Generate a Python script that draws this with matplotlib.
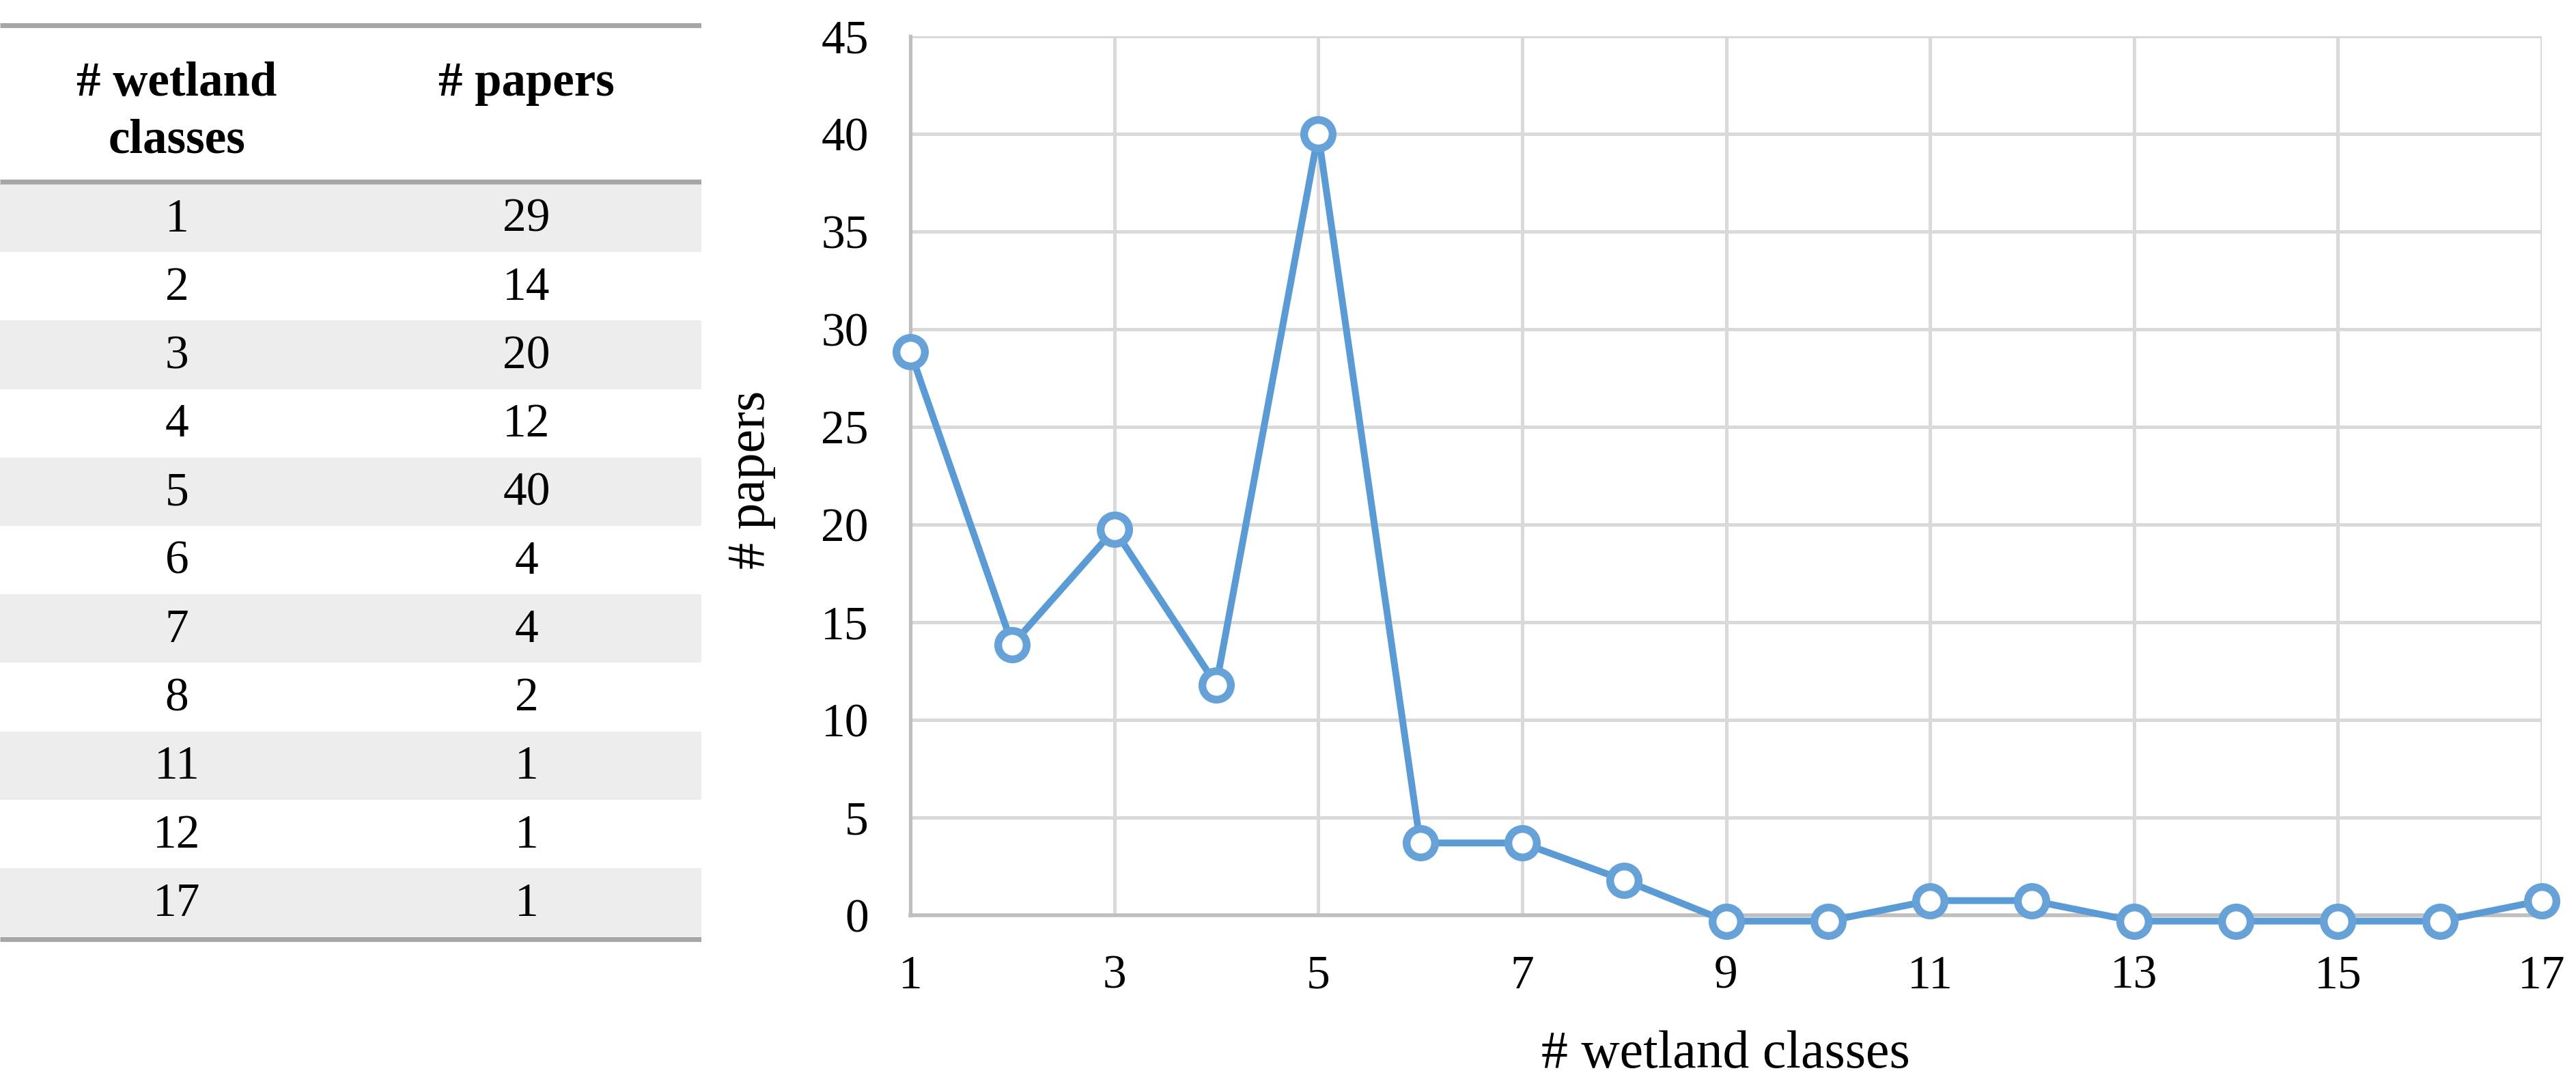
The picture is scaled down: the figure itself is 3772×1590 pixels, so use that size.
import matplotlib
matplotlib.use("Agg")
import matplotlib.pyplot as plt
from matplotlib.patches import Rectangle

# ---- data ----
table_classes = ["1", "2", "3", "4", "5", "6", "7", "8", "11", "12", "17"]
table_papers = ["29", "14", "20", "12", "40", "4", "4", "2", "1", "1", "1"]
header_col1 = "# wetland\nclasses"
header_col2 = "# papers"

x_classes = list(range(1, 18))
# values as drawn in the chart
y_papers = [28.85, 13.85, 19.75, 11.8, 40, 3.7, 3.7, 1.8, -0.3, -0.3,
            0.75, 0.75, -0.3, -0.3, -0.3, -0.3, 0.75]
x_ticks = list(range(1, 18, 2))
y_ticks = list(range(0, 46, 5))
x_label = "# wetland classes"
y_label = "# papers"

W, H = 3773, 1590
DPI = 100
plt.rcParams['font.family'] = ['Liberation Serif', 'DejaVu Serif']

fig = plt.figure(figsize=(W / DPI, H / DPI), dpi=DPI)

# ---- table (pixel coordinates) ----
tw = 1027
axt = fig.add_axes([0, 0, tw / W, 1])
axt.set_xlim(0, tw)
axt.set_ylim(H, 0)
axt.axis('off')

line_col = '#A6A6A6'
shade = '#EDEDED'
top_y, head_y = 37, 265.5
row0, rh = 269, 100.2
c1, c2 = 259, 771
nrows = len(table_classes)
for i in range(nrows):
    y0 = row0 + i * rh
    if i % 2 == 0:
        axt.add_patch(Rectangle((0, y0), tw, rh, facecolor=shade, edgecolor='none'))
    yc = y0 + rh / 2 + 3
    axt.text(c1, yc, table_classes[i], ha='center', va='center', fontsize=50, color='black')
    axt.text(c2, yc, table_papers[i], ha='center', va='center', fontsize=50, color='black')
bot_y = row0 + nrows * rh + 3.5
for yy in (top_y, head_y, bot_y):
    axt.plot([0, tw], [yy, yy], color=line_col, lw=5.2, solid_capstyle='butt')

h1 = header_col1.split("\n")
axt.text(c1, 140, h1[0], ha='center', va='baseline', fontsize=51, fontweight='bold')
axt.text(c1, 223, h1[1], ha='center', va='baseline', fontsize=51, fontweight='bold')
axt.text(c2, 140, header_col2, ha='center', va='baseline', fontsize=51, fontweight='bold')

# ---- chart ----
L, R, T, B = 1333, 3722, 53, 1340
ax = fig.add_axes([L / W, (H - B) / H, (R - L) / W, (B - T) / H])
ax.set_xlim(1, 17)
ax.set_ylim(0, 45)
ax.set_xticks(x_ticks)
ax.set_yticks(y_ticks)
ax.grid(True, color='#D9D9D9', lw=3.6)
ax.set_axisbelow(True)
for s in ('top', 'right'):
    ax.spines[s].set_visible(False)
ax.spines['left'].set_color('#BFBFBF')
ax.spines['left'].set_linewidth(3.8)
ax.spines['bottom'].set_color('#BFBFBF')
ax.spines['bottom'].set_linewidth(4.0)
ax.tick_params(axis='both', length=0, labelsize=50)
ax.tick_params(axis='x', pad=42)
ax.tick_params(axis='y', pad=44)

ax.plot(x_classes, y_papers, color='#5B9BD5', lw=7.2, marker='o', ms=30,
        mfc='white', mec='#66A2D8', mew=8.2, clip_on=False, zorder=5)

fig.text(2527 / W, (H - 1563) / H, x_label, ha='center', va='baseline', fontsize=56)
fig.text(1100 / W, (H - 702) / H, y_label, ha='center', va='center', fontsize=56, rotation=90)

fig.savefig('out.png', dpi=DPI)
